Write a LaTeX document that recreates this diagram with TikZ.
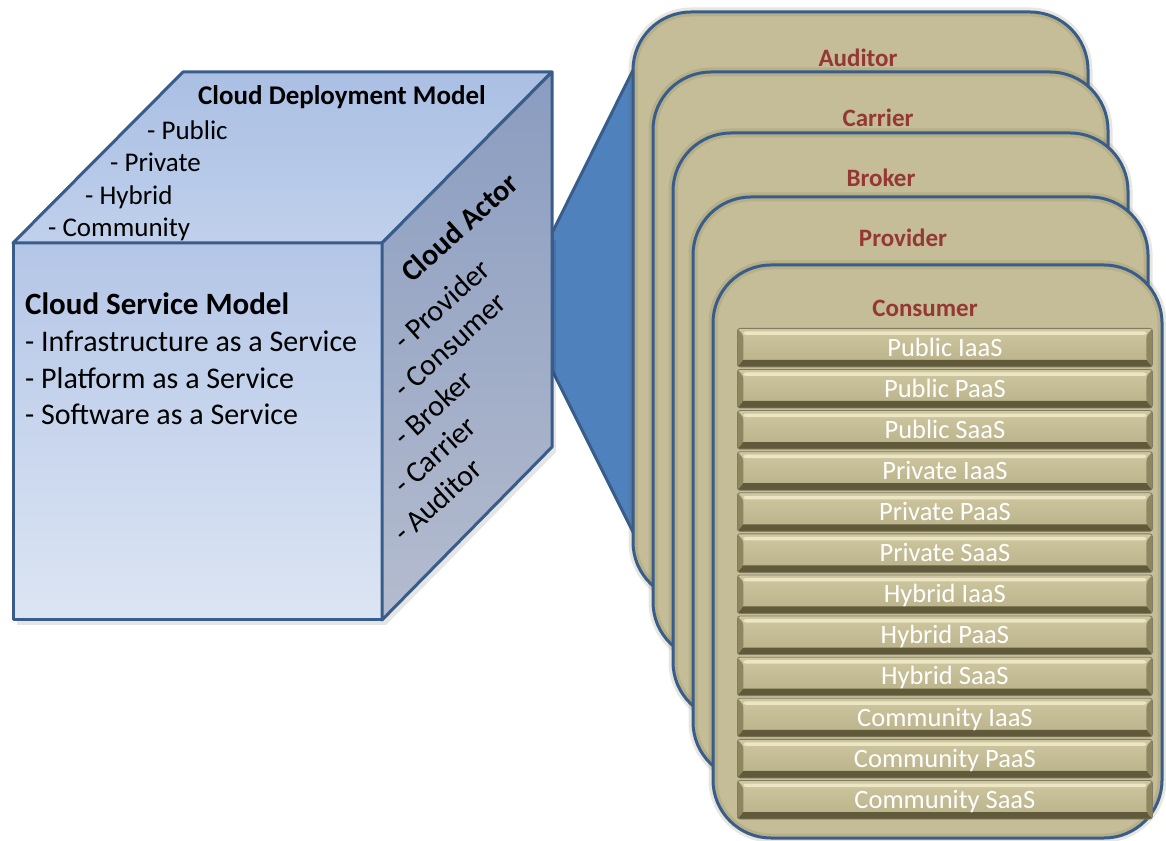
\documentclass[tikz,border=0pt]{standalone}
\usepackage{fontspec}
\setmainfont{Carlito}
\definecolor{edge}{RGB}{56,93,138}
\definecolor{frontTop}{RGB}{180,198,231}
\definecolor{frontBot}{RGB}{220,229,243}
\definecolor{topBack}{RGB}{170,191,227}
\definecolor{topFront}{RGB}{192,208,236}
\definecolor{sideTop}{RGB}{138,156,192}
\definecolor{sideBot}{RGB}{180,188,206}
\definecolor{beam}{RGB}{79,129,189}
\definecolor{cardFill}{RGB}{196,189,151}
\definecolor{cardShade}{RGB}{110,102,62}
\definecolor{titleRed}{RGB}{149,55,53}
\definecolor{barTop}{RGB}{206,199,160}
\definecolor{barBot}{RGB}{184,176,136}
\definecolor{barDark}{RGB}{96,90,58}
\definecolor{barSide}{RGB}{142,134,96}
\definecolor{barHi}{RGB}{236,230,196}
\begin{document}
\begin{tikzpicture}[x=1pt,y=1pt,line join=round,
  face/.style={draw=edge,line width=3pt},
  cubetxt/.style={inner sep=0pt,anchor=base west,text=black},
  sidetxt/.style={inner sep=0pt,anchor=base west,rotate=42,text=black,font=\fontsize{30}{34}\selectfont},
  card/.style={rounded corners=58pt,minimum width=455pt,inner sep=0pt,fill=cardFill,
    postaction={draw=cardShade,line width=9pt,opacity=0.16},
    postaction={draw=edge,line width=3pt}},
  cardtitle/.style={inner sep=0pt,anchor=base,text=titleRed,font=\bfseries\fontsize{25}{30}\selectfont},
  svcbar/.style={rounded corners=2.5pt,minimum width=415pt,minimum height=38.5pt,inner sep=0pt,
    anchor=north west,top color=barTop,bottom color=barBot,draw=barDark!80,line width=0.8pt,
    text=white,font=\fontsize{26.5}{30}\selectfont,text height=17pt,text depth=0pt,
    path picture={
      \fill[barDark] ([yshift=-1pt]path picture bounding box.south west) rectangle ([yshift=7pt]path picture bounding box.south east);
      \fill[barSide] (path picture bounding box.south west) -- ([xshift=6pt,yshift=7pt]path picture bounding box.south west) -- ([xshift=6pt,yshift=-7pt]path picture bounding box.north west) -- (path picture bounding box.north west) -- cycle;
      \fill[barSide] (path picture bounding box.south east) -- ([xshift=-6pt,yshift=7pt]path picture bounding box.south east) -- ([xshift=-6pt,yshift=-7pt]path picture bounding box.north east) -- (path picture bounding box.north east) -- cycle;
      \fill[barHi] ([xshift=6pt,yshift=-3pt]path picture bounding box.north west) -- ([xshift=-6pt,yshift=-3pt]path picture bounding box.north east) -- ([xshift=-6pt,yshift=-6.5pt]path picture bounding box.north east) -- ([xshift=6pt,yshift=-6.5pt]path picture bounding box.north west) -- cycle;
    }}]
\useasboundingbox (0,0) rectangle (1166,840);
\clip (0,0) rectangle (1166,840);
\fill[white] (0,0) rectangle (1166,840);

% beam from cube to the stack
\path[draw=edge,line width=3pt,fill=beam] (552,607) -- (650,804) -- (650,274) -- (552,470) -- cycle;

% cube shadow
\fill[black,opacity=0.10] (17,215) -- (386,215) -- (556,388) -- (556,600) -- (386,600) -- (17,600) -- cycle;

% cube faces
\path[face,top color=frontTop,bottom color=frontBot] (13,597) -- (382,597) -- (382,220) -- (13,220) -- cycle;
\path[face,top color=topBack,bottom color=topFront] (13,597) -- (183,768) -- (552,768) -- (382,597) -- cycle;
\path[face,top color=sideTop,bottom color=sideBot] (382,597) -- (552,768) -- (552,393) -- (382,220) -- cycle;

% top face text
\node[cubetxt,font=\bfseries\fontsize{27}{32}\selectfont] (dmTitle) at (198,735) {Cloud Deployment Model};
\node[cubetxt,font=\fontsize{27}{32}\selectfont] (dm1) at (147,700) {- Public};
\node[cubetxt,font=\fontsize{27}{32}\selectfont] (dm2) at (110,668) {- Private};
\node[cubetxt,font=\fontsize{27}{32}\selectfont] (dm3) at (85,635) {- Hybrid};
\node[cubetxt,font=\fontsize{27}{32}\selectfont] (dm4) at (48,603) {- Community};

% front face text
\node[cubetxt,font=\bfseries\fontsize{31}{36}\selectfont] (smTitle) at (25,525) {Cloud Service Model};
\node[cubetxt,font=\fontsize{30}{36}\selectfont] (sm1) at (25,488) {- Infrastructure as a Service};
\node[cubetxt,font=\fontsize{30}{36}\selectfont] (sm2) at (25,451) {- Platform as a Service};
\node[cubetxt,font=\fontsize{30}{36}\selectfont] (sm3) at (25,415) {- Software as a Service};

% side face text
\node[sidetxt,font=\bfseries\fontsize{30}{34}\selectfont] (caTitle) at (412,556) {Cloud Actor};
\node[sidetxt] (ca1) at (404,488) {- Provider};
\node[sidetxt] (ca2) at (404,440) {- Consumer};
\node[sidetxt] (ca3) at (404,392) {- Broker};
\node[sidetxt] (ca4) at (404,344) {- Carrier};
\node[sidetxt] (ca5) at (404,296) {- Auditor};

% stacked cards
\node[card,minimum height=588pt] (auditor) at (860.5,534) {};
\node[cardtitle] (tAuditor) at (858,773) {Auditor};
\node[card,minimum height=588pt] (carrier) at (880.5,474) {};
\node[cardtitle] (tCarrier) at (878,713) {Carrier};
\node[card,minimum height=587pt] (broker) at (900.5,413.5) {};
\node[cardtitle] (tBroker) at (881,653) {Broker};
\node[card,minimum height=583pt] (provider) at (920.5,351.5) {};
\node[cardtitle] (tProvider) at (903,593) {Provider};
\node[card,minimum width=449pt,minimum height=573pt] (consumer) at (937.5,288.5) {};
\node[cardtitle] (tConsumer) at (925,523) {Consumer};

% service bars
\foreach \lab [count=\i from 0] in {Public IaaS,Public PaaS,Public SaaS,Private IaaS,Private PaaS,Private SaaS,Hybrid IaaS,Hybrid PaaS,Hybrid SaaS,Community IaaS,Community PaaS,Community SaaS}{
  \pgfmathsetmacro{\yt}{512-41.1*\i}
  \node[svcbar] (bar\i) at (737,\yt) {\lab};
}
\end{tikzpicture}
\end{document}
